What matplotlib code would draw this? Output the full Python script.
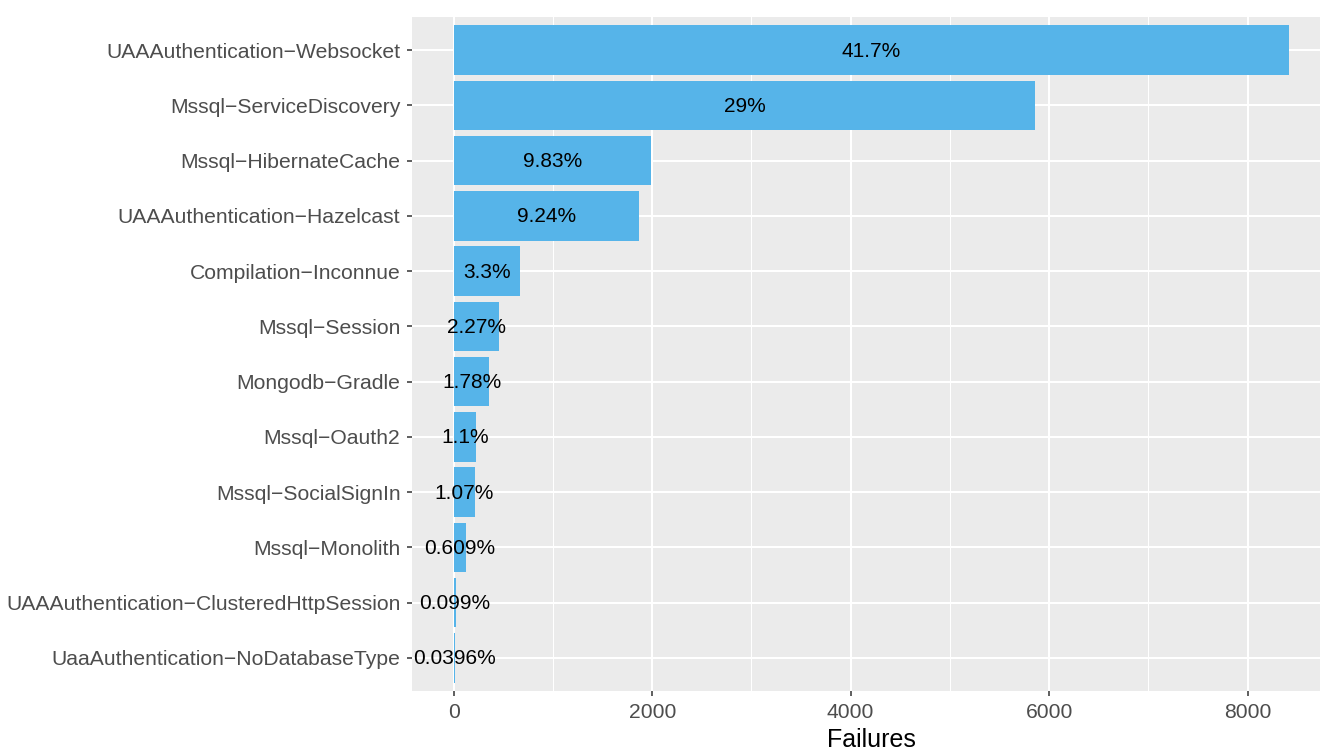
import matplotlib
matplotlib.use('Agg')
import matplotlib.pyplot as plt
import numpy as np

plt.rcParams['font.family'] = ['Liberation Sans', 'DejaVu Sans']

# failures per configuration, top to bottom as shown
categories = [
    'UAAAuthentication\u2212Websocket',
    'Mssql\u2212ServiceDiscovery',
    'Mssql\u2212HibernateCache',
    'UAAAuthentication\u2212Hazelcast',
    'Compilation\u2212Inconnue',
    'Mssql\u2212Session',
    'Mongodb\u2212Gradle',
    'Mssql\u2212Oauth2',
    'Mssql\u2212SocialSignIn',
    'Mssql\u2212Monolith',
    'UAAAuthentication\u2212ClusteredHttpSession',
    'UaaAuthentication\u2212NoDatabaseType',
]
failures = [8420, 5860, 1986, 1867, 667, 459, 360, 222, 216, 123, 20, 8]
xticks = [0, 2000, 4000, 6000, 8000]
xminor = [1000, 3000, 5000, 7000]

total = sum(failures)
pct_labels = ['{:.3g}%'.format(v / total * 100) for v in failures]

fig = plt.figure(figsize=(13.2, 7.51), dpi=100)
ax = fig.add_axes([412 / 1320, 60 / 751, 919 / 1320, 674 / 751])
ax.set_facecolor('#EBEBEB')

n = len(categories)
ypos = np.arange(n)[::-1]
ax.barh(ypos, failures, height=0.9, color='#56B4E9', zorder=3)
for y, v, lab in zip(ypos, failures, pct_labels):
    ax.text(v / 2, y - 0.02, lab, ha='center', va='center', fontsize=15,
            color='black', zorder=4)

xmax = max(failures)
ax.set_xlim(-0.05 * xmax, xmax * 1.05)
ax.set_ylim(-0.6, n - 0.4)
ax.set_yticks(ypos)
ax.set_yticklabels(categories)
ax.set_xticks(xticks)
ax.set_xticks(xminor, minor=True)

ax.grid(True, which='major', color='white', linewidth=1.5, zorder=0)
ax.grid(True, which='minor', axis='x', color='white', linewidth=0.75, zorder=0)
ax.set_axisbelow(True)
for s in ax.spines.values():
    s.set_visible(False)

ax.tick_params(axis='both', which='major', length=3.3, width=1.1, color='#333333',
               labelsize=15.2, labelcolor='#4D4D4D')
ax.tick_params(axis='y', which='major', pad=5)
ax.tick_params(axis='x', which='major', pad=5)
ax.tick_params(which='minor', length=0)

ax.set_xlabel('Failures', fontsize=18, color='black', labelpad=5)

fig.savefig('out.png', dpi=100)
